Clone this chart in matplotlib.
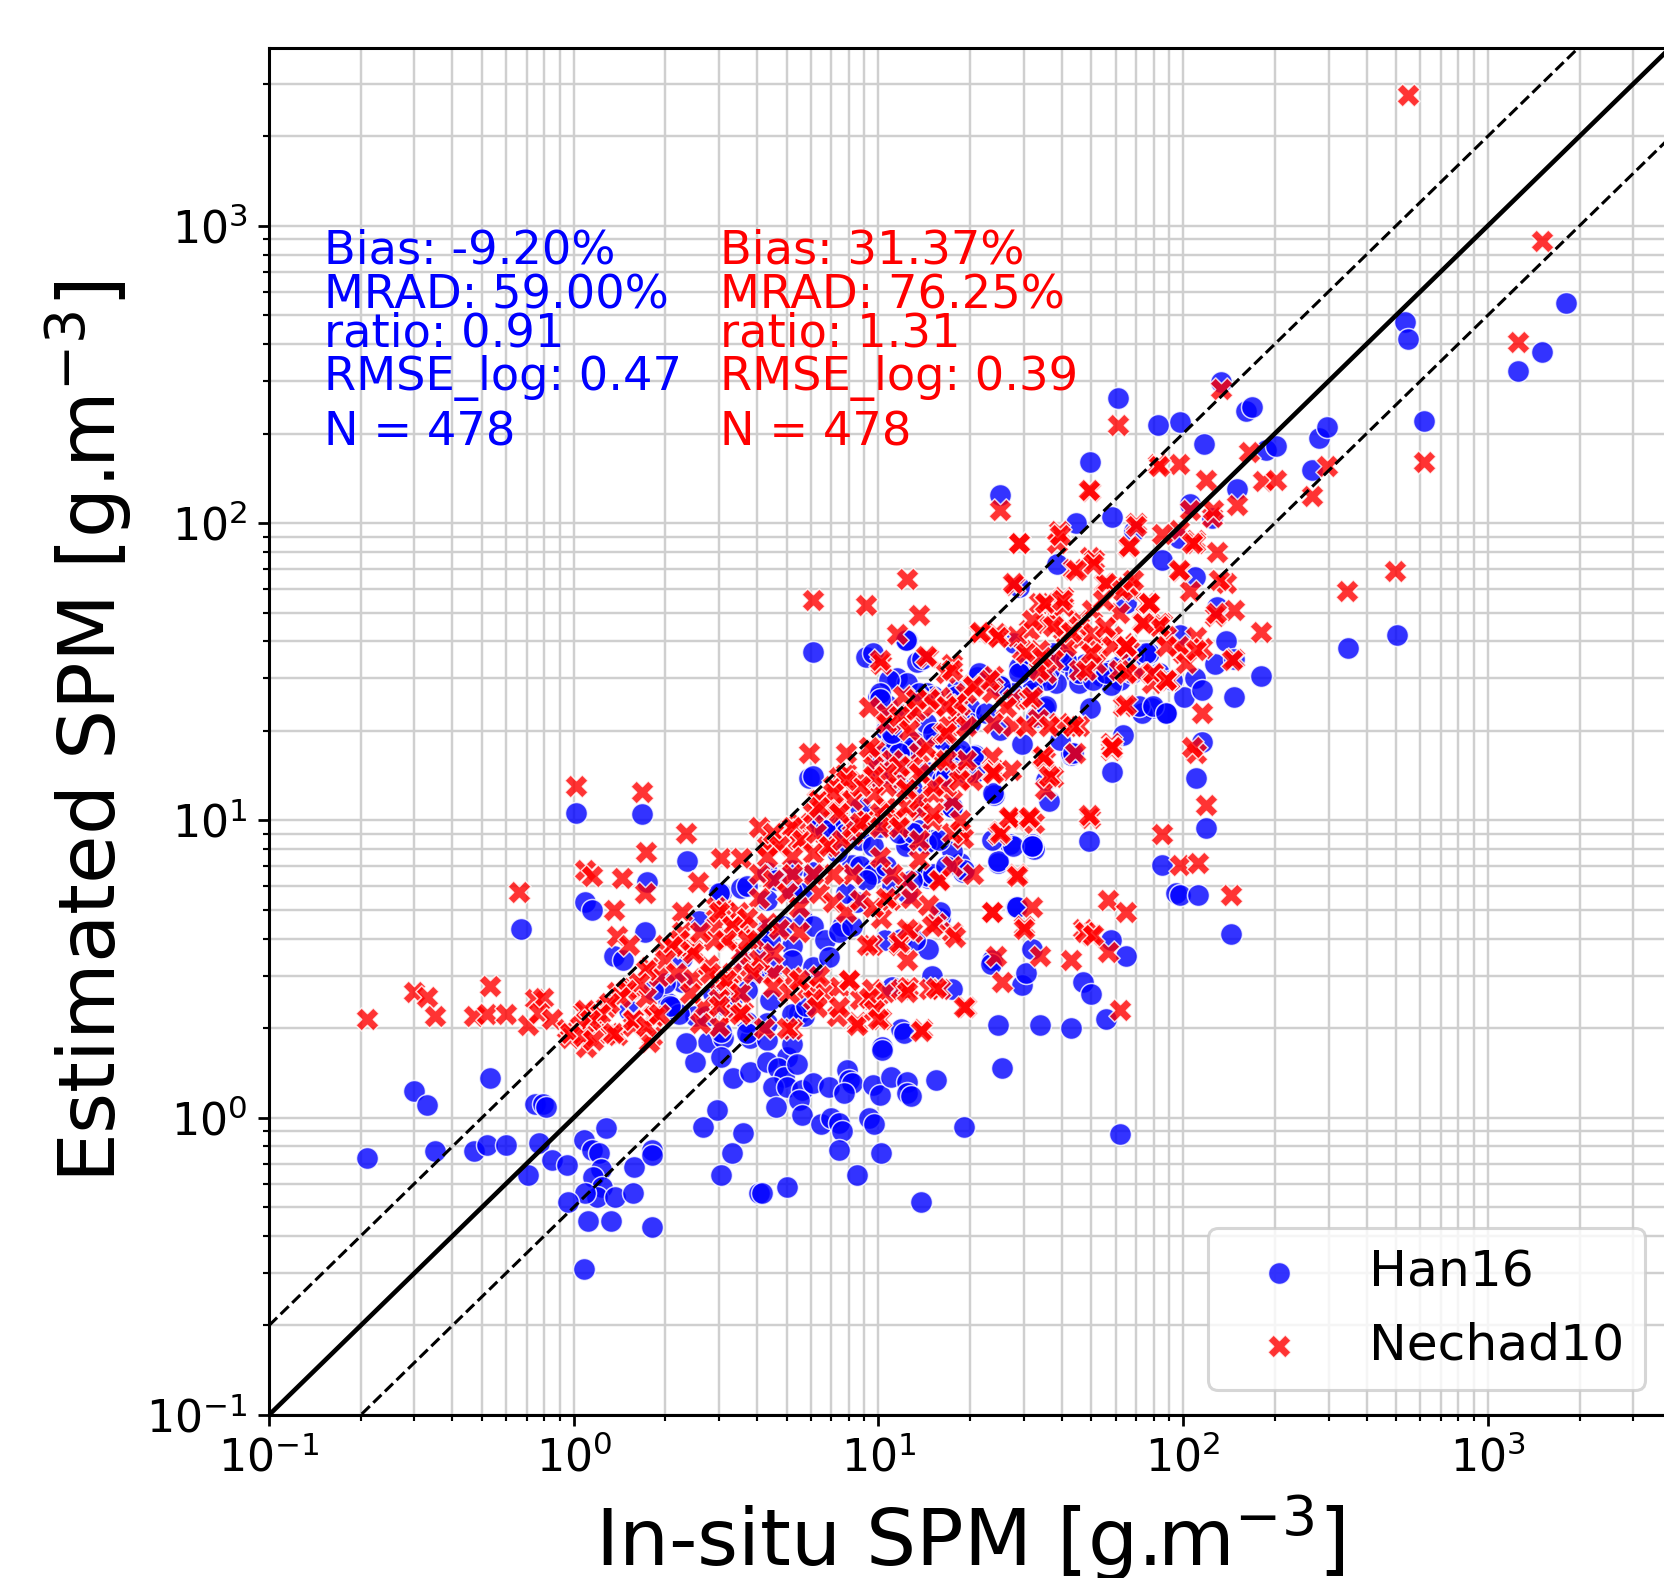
import matplotlib
matplotlib.use("Agg")
import matplotlib.pyplot as plt

# ---------------- data (In-situ SPM, Estimated SPM) ----------------
han16_low = [
    (0.21, 0.73), (0.30, 1.23), (0.33, 1.10), (0.35, 0.77), (0.47, 0.77), (0.53, 1.36), (0.52, 0.81),
    (0.60, 0.81), (0.67, 4.3), (0.71, 0.64), (0.745, 1.11), (0.79, 1.11), (0.81, 1.09), (0.77, 0.82),
    (0.85, 0.72), (0.95, 0.695), (1.08, 0.84), (1.15, 0.78), (1.21, 0.76), (1.23, 0.67), (1.16, 0.63),
    (1.24, 0.585), (1.19, 0.54), (1.09, 0.56), (0.96, 0.52), (1.11, 0.45), (1.33, 0.45), (1.37, 0.54),
    (1.56, 0.56), (1.58, 0.68), (1.80, 0.43), (1.81, 0.78), (1.81, 0.75), (1.28, 0.92), (1.08, 0.31),
    (1.02, 10.6), (1.09, 5.3), (1.15, 5.0), (1.67, 10.5), (2.35, 7.3), (1.74, 6.2), (2.57, 4.6),
    (1.71, 4.2), (1.36, 3.5), (1.45, 3.4), (2.26, 2.85), (1.52, 2.3), (2.04, 2.43), (2.1, 2.35),
    (2.5, 2.2), (2.75, 1.8), (2.5, 1.54), (3.1, 1.85), (3.05, 1.6), (3.33, 1.36), (3.8, 1.42),
    (2.95, 1.06), (2.65, 0.93), (3.3, 0.76), (3.6, 0.89), (3.05, 0.64), (4.05, 0.56), (3.05, 5.7),
    (3.55, 5.9), (2.26, 3.45), (3.05, 1.94), (3.8, 1.85), (5.5, 2.25), (5.7, 2.2), (5.0, 1.6),
    (10.3, 1.73), (11.9, 1.98),
]
han16_under = [
    (4.3, 1.83), (5.2, 1.77), (4.3, 1.54), (4.67, 1.47), (4.9, 1.37), (4.5, 1.27), (5.0, 1.27),
    (5.4, 1.51), (5.6, 1.24), (6.1, 1.31), (5.5, 1.15), (4.6, 1.09), (5.6, 1.02), (6.5, 0.95),
    (6.9, 1.27), (7.0, 1.0), (7.45, 0.96), (7.6, 0.90), (7.45, 0.78), (7.9, 1.45), (8.0, 1.34),
    (8.2, 1.31), (7.7, 1.21), (8.5, 0.64), (9.3, 1.0), (9.6, 1.29), (9.7, 0.95), (10.1, 1.19),
    (10.2, 0.76), (11.0, 1.37), (12.4, 1.32), (12.4, 1.21), (12.8, 1.18), (15.5, 1.34), (19.1, 0.93),
    (13.8, 0.52), (5.0, 0.585), (4.15, 0.56), (10.3, 1.69), (12.1, 1.93), (17.5, 2.7), (14.5, 3.7),
    (15.0, 3.0), (15.9, 4.7), (14.5, 6.4), (18.5, 7.2), (18.9, 6.7), (24.6, 7.2), (24.6, 2.05),
    (34, 2.05), (43, 2.0), (25.5, 1.47), (29.7, 2.8), (30.5, 3.07), (32, 3.7), (23.6, 3.4),
    (28.3, 5.1), (47, 2.85), (50, 2.6), (56, 2.14), (58, 3.97), (65, 3.5), (62, 0.88), (85, 7.1),
    (95, 5.7), (24, 12.2), (36.4, 11.6), (58.5, 14.5), (43, 16.6), (27, 8.3), (31.8, 8.3),
    (32.5, 8.0), (24.6, 7.3), (49, 8.5), (28.5, 5.1), (110, 13.9), (119, 9.4), (98, 5.6),
    (112, 5.6), (144, 4.15), (23.4, 3.3),
]
han16_high = [
    (150, 130), (105, 116), (124, 104), (109, 66), (129, 52), (98, 42), (138, 40), (127, 33.5),
    (147, 35), (180, 30.5), (109, 30), (101, 26), (115, 27.5), (147, 26), (348, 38), (504, 42),
    (115, 18.4), (98, 218), (117, 184), (133, 298), (161, 238), (168, 245), (187, 176), (202, 182),
    (279, 193), (297, 210), (265, 151), (535, 474), (547, 415), (617, 220), (1254, 324), (1503, 375),
    (1800, 550), (61, 264), (25, 124), (49.5, 161), (83, 214), (44.6, 100), (58.5, 105), (69, 94),
    (97, 89), (85, 75), (38.6, 73), (29, 61), (65, 54), (27.8, 39.6), (77, 36.6), (79, 23.9),
    (73, 23), (88, 23), (49.5, 23.9), (63.5, 19.4), (29.7, 32.8), (31.8, 33.6), (35, 32), (39, 34.5),
    (41.5, 33.8), (44.3, 31.3), (47.6, 33.6), (51, 32.8), (53.6, 30.5), (58, 32), (62, 29.7),
    (65, 33.6), (45.6, 29), (38.3, 29), (33, 29.7), (58, 28.5), (68, 31.3),
]
han16_core = [
    (6.1, 36.8), (9.1, 35.5), (12.4, 40.5), (13.4, 34), (11.5, 30), (10.2, 25.8), (10.7, 24.5),
    (14.4, 26.9), (17.5, 24.8), (21.1, 30.4), (23.1, 29.7), (25, 28.5), (29, 32.8), (31.8, 26.9),
    (35, 23.9), (36.4, 32), (39, 36.6), (43, 16.9), (17.5, 11.1), (18.5, 16.6), (20.8, 16.6),
    (25, 20.1), (29.7, 18), (33, 22.3), (15.9, 13.4), (15, 19.8), (13.2, 18.3), (12.4, 16.9),
    (10.6, 20.1), (11.1, 17.3), (20.8, 14.5), (14.4, 14.5), (10, 14), (11.7, 13.4), (10, 10.3),
    (12.9, 12.7), (7.3, 9.6), (6.4, 9.5), (12.4, 8.6), (15, 8.6), (23.6, 8.6), (31.8, 8.2),
    (5.9, 13.9), (10.5, 3.97), (11.9, 4.0), (13.2, 3.97), (8.5, 5.3), (7.6, 4.4), (4.3, 4.3),
    (4.2, 3.7), (3.6, 3.4), (3.3, 2.5), (3.7, 2.1), (11.1, 2.75), (17.5, 7.9), (19.1, 6.8),
    (14.5, 6.5), (15.9, 4.9), (12.4, 5.7), (9.5, 6.8), (8.2, 7.1), (7.3, 7.8), (6.1, 6.7),
    (5.6, 5.7), (5.2, 6.8), (4.3, 6.7), (3.7, 6.0), (3.0, 5.7), (13.6, 9.3), (11.1, 9.5),
    (9.3, 10), (7.1, 9.5), (6.4, 10), (10, 15.1), (16.2, 13.7), (20.3, 21.9), (12.4, 29),
    (13.9, 35), (10.8, 29.7), (18, 27.5), (20, 23.9), (15.5, 19.1), (10, 26), (17.5, 16.9),
    (12.9, 17.3), (6.4, 9.7), (7.3, 9.5), (8.2, 9.5), (6.7, 10.6), (8.7, 8.6), (9.6, 8.2),
    (8.7, 7.0), (9.6, 6.6), (10.6, 7.0), (11.1, 6.0), (12.9, 6.3), (15.1, 6.6), (16.7, 7.0),
    (12.3, 8.2), (10.1, 9.5), (14.3, 8.4), (15.8, 8.6), (17.5, 11.1), (19.4, 14.4), (18.4, 15.6),
    (16.3, 18.6), (14.3, 21.2), (12.9, 17.7), (11.1, 18.6), (10.1, 16.4), (11.7, 15.2), (10.1, 26.8),
    (15.1, 26.1), (18, 26.1), (19.9, 21.2), (5.2, 5.8), (4.6, 6.3), (4.3, 5.4), (5.6, 4.7),
    (4.85, 4.4), (4.4, 3.96), (5.2, 3.77), (6.1, 4.4), (6.7, 3.96), (7.4, 4.2), (8.2, 4.4),
    (7.8, 5.7), (9.1, 6.3), (3.97, 3.06), (4.5, 3.22), (5.2, 3.4), (6.1, 3.22), (6.9, 3.48),
    (3.7, 2.69), (4.4, 2.49), (5.2, 2.24), (5.8, 2.37), (4.3, 2.08), (3.7, 1.92), (3.16, 2.37),
    (2.86, 2.62), (2.72, 2.19), (2.22, 2.24), (2.07, 2.37), (2.0, 2.83), (1.82, 2.69), (2.34, 1.78),
    (37.3, 36.6), (41.2, 34.7), (45.6, 31.3), (50.5, 29.7), (55.8, 31.3), (61.7, 33), (68.2, 35.6),
    (75.5, 36.6), (83.4, 31.3), (92.2, 29.7), (71.8, 24.2), (79.4, 24.2), (87.7, 23), (35.5, 29.7),
    (32, 27.5), (29, 31.3), (27.6, 26.8), (35.5, 24.2), (39.3, 18.7), (43.4, 16.8), (35.5, 13.7),
    (23.7, 12.4), (27.6, 8.2), (32, 8.2), (20.4, 16.4), (18.5, 17.3), (16.7, 14.1), (13.6, 11.1),
    (11.7, 9.1), (13, 9.1), (10.1, 10), (8.7, 11.1), (7.8, 9.1), (6.7, 9.3), (6.1, 14.1),
    (10.6, 14.4), (11.7, 16.8), (15.1, 19.6), (18.5, 21.8), (22.5, 23), (25, 28.2), (21.4, 31.3),
    (13.6, 26.8), (12.3, 23), (11.1, 19.6), (10.1, 25.5), (9.6, 36.6), (12.3, 40.5),
]

nechad10_low = [
    (0.21, 2.15), (0.30, 2.65), (0.33, 2.55), (0.35, 2.2), (0.53, 2.77), (0.47, 2.2), (0.52, 2.23),
    (0.60, 2.23), (0.66, 5.75), (0.71, 2.05), (0.745, 2.51), (0.79, 2.53), (0.77, 2.25), (0.85, 2.14),
    (0.95, 1.98), (1.07, 2.26), (1.09, 6.8), (1.15, 6.5), (1.44, 6.4), (1.71, 5.7), (1.36, 5.0),
    (1.39, 4.07), (1.52, 3.8), (1.77, 3.2), (2.55, 6.2), (2.26, 4.9), (2.26, 4.2), (1.99, 3.8),
    (2.1, 3.75), (2.35, 3.75), (2.45, 2.96), (2.75, 3.25), (1.55, 2.74), (1.73, 2.55), (1.39, 2.65),
    (1.28, 2.35), (1.15, 2.2), (1.19, 2.1), (1.07, 1.98), (1.11, 1.88), (1.1, 1.73), (1.31, 1.93),
    (1.39, 1.9), (1.56, 2.14), (1.56, 2.03), (1.81, 2.2), (1.8, 1.88), (0.97, 1.85), (2.94, 5.1),
    (3.12, 5.0), (3.45, 4.9), (3.6, 4.4), (3.3, 4.4), (2.94, 4.4), (3.2, 4.0), (3.9, 4.0),
    (3.55, 3.6), (3.8, 3.2), (3.3, 3.07), (3.0, 2.9), (3.2, 2.75), (3.0, 2.5), (3.3, 2.26),
    (3.6, 2.26), (2.65, 2.35), (3.0, 2.03), (1.02, 13), (1.67, 12.5), (2.33, 9.1), (1.73, 7.8),
    (3.05, 7.5), (3.55, 7.5), (5.9, 16.9), (2.45, 3.7), (1.09, 2.3), (1.52, 2.7), (1.84, 2.2),
    (1.77, 1.8),
]
nechad10_under = [
    (4.5, 3.07), (5.2, 2.97), (5.8, 2.7), (6.2, 2.75), (6.7, 2.65), (7.45, 2.75), (8.0, 2.9),
    (8.7, 2.5), (9.5, 2.7), (10, 2.35), (10.5, 2.65), (11.9, 2.7), (12.5, 2.75), (14.7, 2.7),
    (15.9, 2.7), (19.4, 2.35), (17.5, 4.2), (15.5, 4.5), (12.9, 4.2), (11.7, 3.8), (9.5, 3.8),
    (12.4, 3.4), (13.9, 1.98), (8.5, 2.1), (7.3, 2.2), (6.1, 2.5), (5.2, 1.98), (15.9, 6.3),
    (14.5, 5.2), (17.8, 4.06), (15, 4.4), (19.1, 2.35), (13.8, 1.96), (15.5, 2.74), (28.5, 6.6),
    (31.8, 5.1), (23.6, 4.9), (30, 4.4), (24.3, 3.5), (25.5, 2.87), (34, 3.5), (43, 3.4),
    (47, 4.3), (50, 4.1), (56.5, 5.4), (65, 4.9), (56.5, 3.6), (62, 2.3), (8.5, 2.05),
    (10.2, 2.15), (12.4, 2.65), (6.3, 2.35), (7.45, 2.35), (9.3, 2.53), (9.7, 2.3), (10, 2.15),
    (5.0, 2.0), (4.2, 2.0), (11.7, 3.9), (12.4, 4.3), (9.2, 3.8), (10.2, 4.7), (10.9, 5.4),
    (12.8, 5.5), (8.0, 2.9), (23.6, 16.3), (34.5, 16.3), (58, 17.3), (110, 16.9), (24, 14.8),
    (36.4, 14), (119, 11.3), (27, 10.1), (31, 10), (32.5, 9.8), (24.6, 9.0), (49.5, 10.2),
    (28.5, 6.5), (85, 9.0), (98, 7.1), (112, 7.2), (144, 5.6), (23.6, 4.9), (30, 4.3),
    (47.6, 4.2), (50.5, 4.1),
]
nechad10_high = [
    (61, 214), (25, 111), (49.5, 128), (83, 158), (97, 158), (133, 282), (164, 174), (183, 138),
    (202, 140), (297, 155), (265, 123), (119, 140), (124, 105), (105, 111), (150, 115), (109, 88),
    (97, 95), (85, 92), (70, 100), (66, 83), (39, 94), (38.6, 86), (29, 86), (49.5, 77), (51, 75),
    (43.6, 70), (55, 63), (65, 61), (67, 60), (27.8, 62), (98, 69), (129, 80), (138, 63), (147, 51),
    (127, 48.5), (105, 59), (180, 43), (110, 41.5), (100, 36.6), (115, 38), (147, 35), (90, 29.7),
    (79, 31.3), (65, 32), (73, 46.6), (85, 46), (64, 39.6), (63.5, 24.2), (115, 23), (58, 18.2),
    (43.6, 20.7), (107, 17.6), (346, 59), (495, 69), (547, 2750), (1503, 885), (1254, 405),
    (617, 161), (109, 86), (27.6, 62.8), (29, 85.7), (33.7, 53.8), (37.3, 49.8), (40.2, 56.6),
    (31.3, 43.8), (35.5, 46), (40.2, 43.8), (45.6, 47.3), (50.4, 51), (55.7, 62.8), (63.2, 59.7),
    (68.2, 64.4), (75.4, 53.8), (83.4, 46), (87.7, 41.6), (97, 38.5), (66.5, 37.5), (58.6, 41.6),
    (51.8, 38.5), (45.6, 40.5), (41.2, 38.5), (37.3, 34.7), (33.7, 37.5), (29.7, 37.5), (24.9, 41.6),
    (23.7, 30.5), (27.6, 25.5), (31.3, 25.5), (35.5, 31.3), (45.6, 32.1), (51.8, 33.8), (61.7, 32.1),
    (71.8, 31.3), (79.3, 29), (87.7, 29.7), (102, 33.8), (110, 37.5), (145, 34.7), (128, 49.8),
    (107, 85.7), (97, 69.7), (131, 64.4), (125, 111), (83.4, 155), (49.2, 129), (39.3, 91),
    (50.5, 73), (44.5, 69.7), (66.5, 83.4), (70, 97.5), (77.4, 53.8), (83.4, 44.9), (61.7, 49.8),
    (54.5, 55.2), (73.6, 46), (35.5, 53.8), (40.3, 52.4), (32, 47.3), (28.3, 41.6), (24.3, 42.7),
    (21.4, 42.7), (37.3, 44.9), (45.6, 44.9), (50.5, 42.7), (58.6, 38.5), (64.9, 38.5), (87.7, 38.5),
    (48, 32), (64.9, 31.3), (79.4, 31.3), (87.7, 29.7), (33.7, 32), (30.5, 36.6),
]
nechad10_core = [
    (6.1, 55), (9.1, 53), (12.4, 65), (13.6, 49), (11.5, 42.3), (10.2, 33.5), (14.5, 35.5),
    (17.5, 33.6), (24.6, 41.5), (21.5, 43), (35.3, 54), (40, 55), (77, 54), (55.5, 44.7), (43, 43),
    (50, 36.6), (65, 38.6), (34.5, 35.5), (16.7, 31.3), (20.3, 28.5), (23.6, 27), (26.2, 24),
    (31.8, 26), (18.5, 24.5), (15.9, 26), (12.8, 23), (11.9, 21.3), (10.6, 23), (9.3, 24),
    (9.7, 17.3), (13.6, 16.9), (15.9, 16), (18.5, 14.5), (23.6, 14.5), (35.3, 16), (33.5, 22),
    (39, 21.3), (58, 17.7), (65, 24.5), (45.6, 20.7), (37.5, 14), (35.3, 12.7), (27, 10.2),
    (31, 10.2), (25, 9.2), (18.5, 9.2), (18.9, 8.7), (15, 10), (11.7, 10.3), (7.45, 14), (8.2, 12.7),
    (9.7, 13.4), (7.3, 11.1), (6.3, 11.7), (5.5, 9.8), (5.0, 9.3), (4.5, 8.6), (4.3, 8.2), (5.4, 8.6),
    (6.7, 8.2), (8.2, 9.0), (9.1, 10), (10.6, 11.1), (12.4, 12.4), (13.6, 10.8), (17.5, 11.7),
    (20.3, 13.7), (27.3, 14.8), (44.3, 16.9), (4.07, 9.5), (4.5, 9.1), (5.2, 9.5), (5.6, 8.6),
    (6.25, 9.1), (4.7, 8.2), (4.3, 7.55), (5.2, 7.55), (6.1, 7.75), (6.9, 8.2), (7.6, 8.6),
    (8.2, 9.5), (9.1, 10.0), (10.1, 10.6), (11.1, 10.0), (12.3, 11.1), (13.6, 11.7), (15.1, 12.3),
    (16.7, 13.0), (18.4, 13.7), (11.7, 13.7), (10.6, 13.0), (9.6, 12.3), (8.7, 13.7), (7.8, 14.4),
    (7.1, 13.0), (6.4, 11.7), (6.1, 10.6), (7.1, 11.1), (8.2, 11.7), (9.6, 15.2), (11.1, 16.0),
    (12.9, 15.2), (14.3, 17.7), (16.3, 19.6), (18.0, 22.9), (19.4, 26.8), (17.5, 32), (14.3, 35.6),
    (10.1, 34.7), (12.0, 26.1), (13.3, 23.5), (15.1, 24.2), (17.1, 20.7), (10.6, 21.2), (9.3, 17.7),
    (7.8, 16.8), (4.07, 6.6), (4.5, 6.3), (5.0, 5.7), (5.5, 5.1), (4.07, 5.5), (3.7, 4.7),
    (4.3, 4.5), (4.7, 4.3), (5.5, 4.2), (6.4, 5.7), (7.1, 5.3), (7.8, 4.9), (8.7, 5.4), (9.6, 5.1),
    (10.6, 5.5), (12.3, 6.3), (13.6, 7.4), (15.8, 6.3), (17.5, 7.0), (20.4, 6.6), (11.1, 6.6),
    (10.1, 7.55), (8.2, 6.6), (7.1, 6.6), (6.1, 6.6), (5.2, 6.6), (3.0, 4.9), (3.3, 4.4),
    (3.7, 3.96), (4.07, 3.4), (4.5, 3.57), (3.16, 3.96), (2.86, 3.96), (2.6, 4.2), (2.46, 3.57),
    (2.22, 3.96), (2.1, 3.77), (2.0, 3.4), (1.91, 2.99), (1.73, 3.14), (1.64, 2.83), (1.49, 2.69),
    (1.42, 2.55), (1.31, 2.43), (1.22, 2.24), (1.13, 2.13), (1.05, 2.03), (0.97, 1.92), (1.07, 1.88),
    (1.16, 1.83), (1.35, 1.92), (1.56, 2.13), (1.73, 2.03), (1.91, 2.24), (2.17, 3.06), (2.4, 2.62),
    (2.79, 3.06), (3.16, 2.91), (3.5, 2.62), (3.87, 3.06), (4.5, 2.76), (5.1, 2.62), (5.5, 2.91),
    (6.4, 2.99), (3.5, 2.24), (3.0, 2.37), (2.6, 2.08), (23.1, 29.7), (20.4, 28.2), (18, 24.8),
    (16.7, 24.2), (14.7, 25.5), (13.3, 25.5), (11.7, 22.4), (12.6, 20.2), (16.7, 19.6), (19.4, 20.7),
    (23.7, 21.2), (27.6, 20.7), (30.5, 20.7), (36.4, 20.7), (43.4, 20.7), (58.6, 17.7), (34.6, 16.4),
    (36.4, 14.1), (23.7, 14.4), (19.4, 16), (16.7, 16), (15.1, 13), (13.6, 14.4), (12.3, 12.7),
    (11.7, 15.2), (10.6, 14.4), (9.6, 14.1), (8.7, 13), (7.8, 13.7), (7.1, 12.4), (6.4, 11.1),
    (7.4, 10.6), (8.7, 9.8), (10.1, 9.5), (11.7, 9.5), (13.6, 8.6), (15.1, 10.6), (17.5, 9.1),
    (18.5, 10), (25, 9.1), (26.9, 10.3), (31.3, 10.3), (49.2, 10.4),
]

han16 = han16_low + han16_under + han16_high + han16_core
nechad10 = nechad10_low + nechad10_under + nechad10_high + nechad10_core
han16_x = [p[0] for p in han16]
han16_y = [p[1] for p in han16]
nechad10_x = [p[0] for p in nechad10]
nechad10_y = [p[1] for p in nechad10]

stats_labels = ["Bias", "MRAD", "ratio", "RMSE_log", "N"]
han16_stats = ["Bias: -9.20%", "MRAD: 59.00%", "ratio: 0.91", "RMSE_log: 0.47", "N = 478"]
nechad10_stats = ["Bias: 31.37%", "MRAD: 76.25%", "ratio: 1.31", "RMSE_log: 0.39", "N = 478"]
series_names = ["Han16", "Nechad10"]
axis_limits = [0.1, 3960]
ref_factors = [1.0, 2.0, 0.5]

# ---------------- figure ----------------
W, H, DPI = 1664, 1578, 220
fig = plt.figure(figsize=(W / DPI, H / DPI), dpi=DPI)
ax = fig.add_axes([269 / W, 163 / H, 1401 / W, 1367 / H])
ax.set_xscale("log")
ax.set_yscale("log")
ax.set_xlim(axis_limits)
ax.set_ylim(axis_limits)

ax.grid(True, which="both", color="#cfcfcf", linewidth=0.8, zorder=0)
ax.set_axisbelow(True)

ax.scatter(han16_x, han16_y, s=52, c="blue", marker="o", edgecolors="white",
           linewidths=0.5, alpha=0.8, label=series_names[0], zorder=3)
ax.scatter(nechad10_x, nechad10_y, s=58, c="red", marker="X", edgecolors="white",
           linewidths=0.5, alpha=0.8, label=series_names[1], zorder=4)

for f in ref_factors:
    ys = [v * f for v in axis_limits]
    if f == 1.0:
        ax.plot(axis_limits, ys, color="black", linestyle="-", linewidth=1.5, zorder=5)
    else:
        ax.plot(axis_limits, ys, color="black", linestyle="--", linewidth=1.0, zorder=5)

for sp in ax.spines.values():
    sp.set_linewidth(1.0)
ax.tick_params(which="major", labelsize=14.5, length=3.5, width=0.9)
ax.tick_params(which="minor", length=2, width=0.7)

ax.set_xlabel("In-situ SPM [g.m$^{-3}$]", fontsize=25.8, labelpad=4)
ax.set_ylabel("Estimated SPM [g.m$^{-3}$]", fontsize=25.8, labelpad=4)

line_y = [0.8427, 0.8098, 0.7813, 0.7498, 0.7089]
for i in range(len(stats_labels)):
    ax.text(0.0393, line_y[i], han16_stats[i], color="blue", fontsize=15.2,
            transform=ax.transAxes, va="baseline", ha="left", zorder=6)
    ax.text(0.322, line_y[i], nechad10_stats[i], color="red", fontsize=15.2,
            transform=ax.transAxes, va="baseline", ha="left", zorder=6)

ax.legend(loc="lower right", fontsize=16.5)

fig.savefig("out.png", dpi=DPI)
